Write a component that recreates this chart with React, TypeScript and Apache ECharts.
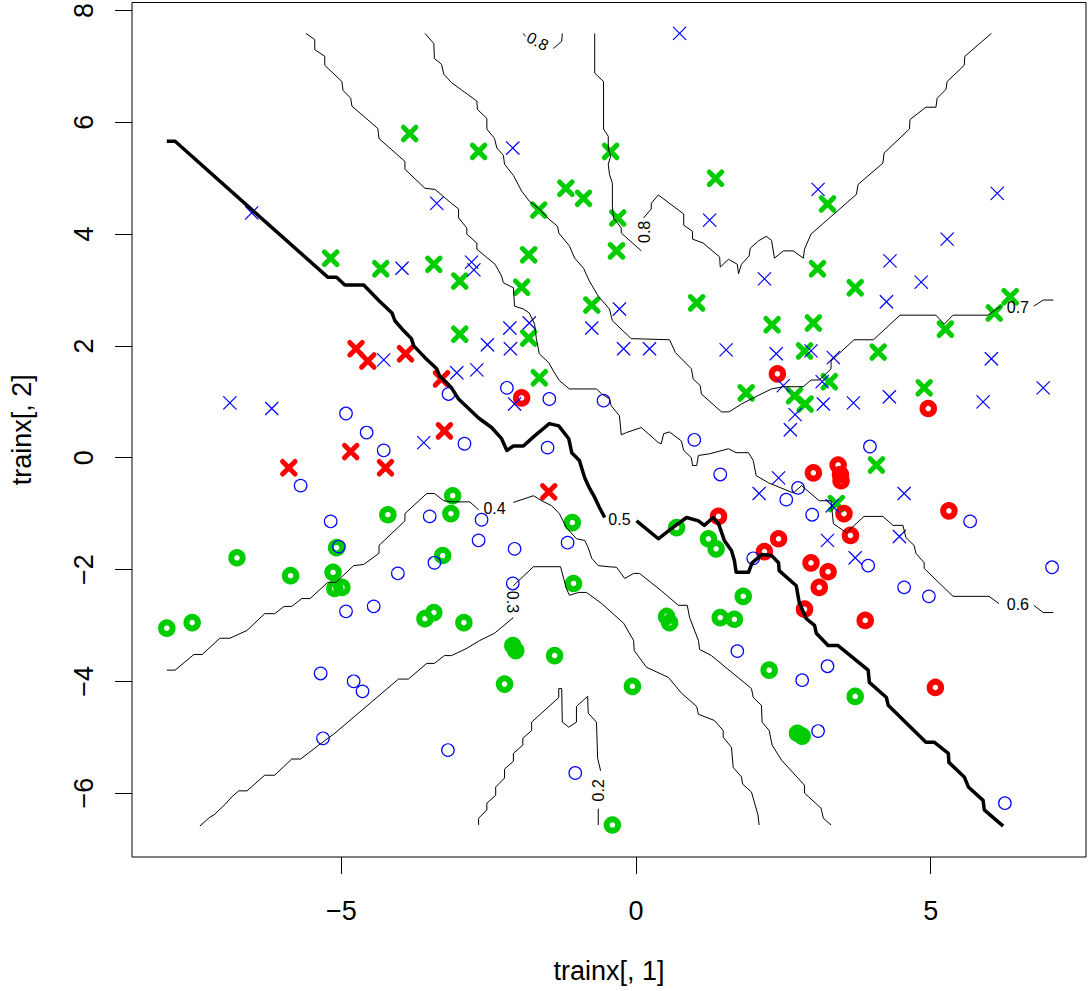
import React, { useEffect, useRef } from "react";
import * as echarts from "echarts";

type Pt = [number, number];

// Axis extents and ticks
const X_RANGE: Pt = [-8.551, 7.636];
const Y_RANGE: Pt = [-7.143, 8.143];
const X_TICKS = [-5, 0, 5];
const Y_TICKS = [-6, -4, -2, 0, 2, 4, 6, 8];
const X_TITLE = "trainx[, 1]";
const Y_TITLE = "trainx[, 2]";

// Training points by class and marker
const blueCross: Pt[] = [
  [-6.52, 4.38], [-3.38, 4.55], [-3.97, 3.39], [0.74, 7.59], [-2.09, 5.54], [1.25, 4.25],
  [-2.79, 3.5], [-2.75, 3.36], [2.18, 3.2], [3.09, 4.8], [6.13, 4.73], [5.28, 3.91],
  [4.31, 3.52], [4.84, 3.14], [-4.28, 1.75], [-6.89, 0.98], [-6.18, 0.88], [-3.6, 0.27],
  [-0.28, 2.66], [-2.14, 2.32], [-1.81, 2.41], [-2.52, 2.02], [-2.13, 1.95], [-0.75, 2.32],
  [-0.21, 1.95], [0.23, 1.95], [1.53, 1.93], [-3.04, 1.52], [-2.7, 1.57], [-2.06, 0.96],
  [4.25, 2.79], [2.38, 1.86], [2.97, 1.91], [3.35, 1.79], [6.03, 1.77], [3.16, 1.36],
  [2.5, 1.29], [3.18, 0.96], [3.69, 0.98], [4.3, 1.09], [5.89, 1.0], [6.91, 1.25],
  [2.7, 0.77], [2.62, 0.5], [2.42, -0.36], [4.55, -0.64], [3.25, -1.48], [4.47, -1.41],
  [3.72, -1.79], [2.09, -0.64], [3.33, -0.86],
];

const blueCircle: Pt[] = [
  [-3.18, 1.14], [-4.92, 0.79], [-4.57, 0.45], [-4.28, 0.13], [-5.69, -0.5], [-3.5, -1.05],
  [-5.18, -1.14], [-5.04, -1.59], [-3.42, -1.88], [-4.04, -2.07], [-4.92, -2.75], [-4.45, -2.66],
  [-5.35, -3.86], [-4.79, -4.0], [-4.64, -4.18], [-5.31, -5.02], [-3.19, -5.23], [-2.19, 1.25],
  [-1.47, 1.05], [-0.55, 1.02], [-2.91, 0.25], [-1.5, 0.18], [0.99, 0.32], [1.43, -0.3],
  [-2.62, -1.11], [-2.67, -1.48], [-2.06, -1.63], [-1.16, -1.52], [1.99, -1.8], [-2.09, -2.25],
  [1.72, -3.46], [-1.03, -5.64], [3.97, 0.2], [2.75, -0.54], [2.55, -0.75], [2.99, -1.02],
  [5.67, -1.14], [3.94, -1.93], [7.06, -1.96], [4.55, -2.32], [4.97, -2.48], [3.25, -3.73],
  [2.82, -3.98], [3.09, -4.89], [6.26, -6.18],
];

const greenCross: Pt[] = [
  [-3.84, 5.8], [-5.18, 3.57], [-4.33, 3.38], [-3.43, 3.46], [-2.67, 5.48], [-0.43, 5.48],
  [-1.19, 4.82], [-0.89, 4.64], [-1.65, 4.43], [-0.31, 4.29], [1.35, 5.0], [-1.82, 3.63],
  [-0.33, 3.7], [-2.99, 3.16], [-1.94, 3.05], [3.25, 4.54], [3.08, 3.38], [3.72, 3.04],
  [6.35, 2.88], [-0.75, 2.73], [1.03, 2.77], [2.31, 2.38], [-2.99, 2.21], [-1.82, 2.14],
  [-1.64, 1.43], [1.87, 1.16], [6.08, 2.59], [3.01, 2.41], [5.25, 2.3], [2.86, 1.91],
  [4.11, 1.89], [3.28, 1.36], [2.69, 1.11], [2.87, 0.96], [4.89, 1.25], [4.08, -0.13],
  [3.4, -0.82],
];

const greenCircle: Pt[] = [
  [-3.11, -0.68], [-4.21, -1.02], [-3.14, -1.0], [-5.08, -1.61], [-6.77, -1.79], [-3.28, -1.75],
  [-5.86, -2.11], [-5.14, -2.05], [-5.11, -2.34], [-4.99, -2.32], [-7.96, -3.05], [-7.53, -2.95],
  [-3.58, -2.88], [-3.43, -2.77], [-2.92, -2.95], [-1.08, -1.16], [0.69, -1.25], [1.23, -1.45],
  [1.36, -1.63], [-1.06, -2.25], [-2.09, -3.36], [-2.04, -3.45], [-1.38, -3.54], [-2.23, -4.05],
  [-0.06, -4.09], [0.52, -2.84], [0.57, -2.95], [1.43, -2.86], [1.67, -2.89], [1.82, -2.48],
  [2.26, -3.8], [-0.4, -6.57], [3.72, -4.27], [2.74, -4.93], [2.82, -4.98],
];

const redCross: Pt[] = [
  [-4.75, 1.95], [-4.55, 1.73], [-3.91, 1.86], [-3.3, 1.41], [-3.25, 0.48], [-4.84, 0.11],
  [-5.89, -0.18], [-4.25, -0.18], [-1.48, -0.61],
];

const redCircle: Pt[] = [
  [-1.94, 1.07], [2.4, 1.5], [4.96, 0.88], [3.01, -0.27], [3.43, -0.13], [3.47, -0.3],
  [3.48, -0.41], [5.31, -0.95], [3.53, -1.0], [3.64, -1.39], [2.42, -1.45], [1.4, -1.05],
  [2.18, -1.68], [2.97, -1.88], [3.26, -2.04], [3.11, -2.32], [2.86, -2.71], [3.89, -2.91],
  [5.08, -4.11],
];

// Probability contours, each split where its label sits
const level02: Pt[][] = [
  [
    [-2.67, -6.57], [-2.67, -6.45], [-2.53, -6.3], [-2.53, -6.18], [-2.38, -6.04], [-2.38, -5.89],
    [-2.23, -5.73], [-2.23, -5.57], [-2.08, -5.43], [-2.08, -5.29], [-1.92, -5.14], [-1.92, -5.02],
    [-1.77, -4.88], [-1.77, -4.73], [-1.31, -4.29], [-1.31, -4.13], [-1.26, -4.13], [-1.25, -4.73],
    [-1.14, -4.82], [-1.01, -4.73], [-1.01, -4.45], [-0.82, -4.27], [-0.81, -4.57], [-0.67, -4.73],
    [-0.65, -5.38], [-0.6, -5.6],
  ],
  [[-0.64, -6.28], [-0.64, -6.57]],
];

const level03: Pt[][] = [
  [
    [-7.4, -6.59], [-7.23, -6.43], [-7.16, -6.39], [-6.97, -6.2], [-6.86, -6.07], [-6.74, -5.96],
    [-6.6, -5.96], [-6.3, -5.68], [-6.13, -5.68], [-5.84, -5.39], [-5.69, -5.39], [-5.38, -5.14],
    [-5.11, -4.93], [-4.03, -3.96], [-3.86, -3.96], [-3.55, -3.68], [-3.42, -3.68], [-3.25, -3.54],
    [-3.13, -3.54], [-2.87, -3.41], [-2.65, -3.27], [-2.4, -3.14], [-2.08, -2.86],
  ],
  [
    [-2.08, -2.29], [-1.74, -1.95], [-1.28, -1.95], [-1.18, -2.34], [-1.13, -2.46], [-0.97, -2.41],
    [-0.84, -2.41], [-0.58, -2.61], [-0.21, -2.96], [-0.04, -3.27], [-0.03, -3.45], [0.18, -3.75],
    [0.55, -3.93], [0.77, -4.21], [1.03, -4.45], [1.06, -4.59], [1.33, -4.7], [1.48, -4.88],
    [1.48, -5.0], [1.62, -5.18], [1.65, -5.54], [1.79, -5.71], [1.81, -5.84], [1.96, -5.98],
    [2.07, -6.39], [2.09, -6.57],
  ],
];

const level04: Pt[][] = [
  [
    [-7.96, -3.8], [-7.82, -3.8], [-7.5, -3.52], [-7.36, -3.52], [-7.06, -3.23], [-6.89, -3.23],
    [-6.6, -3.09], [-6.3, -2.79], [-6.13, -2.79], [-5.97, -2.66], [-5.84, -2.66], [-5.67, -2.52],
    [-5.53, -2.52], [-5.23, -2.23], [-5.09, -2.23], [-4.79, -1.93], [-4.62, -1.91], [-4.36, -1.71],
    [-4.36, -1.57], [-3.92, -1.13], [-3.92, -1.0], [-3.55, -0.64], [-3.42, -0.64], [-3.26, -0.77],
    [-3.13, -0.79], [-2.82, -0.79], [-2.67, -0.93],
  ],
  [
    [-2.08, -0.8], [-1.74, -0.68], [-1.6, -0.77], [-1.43, -0.86], [-1.3, -1.0], [-1.18, -1.25],
    [-1.01, -1.45], [-0.87, -1.48], [-0.81, -1.61], [-0.75, -1.8], [-0.64, -1.93], [-0.47, -1.95],
    [-0.33, -1.96], [-0.19, -2.16], [-0.04, -2.07], [0.06, -2.07], [0.43, -2.38], [0.72, -2.64],
    [0.87, -2.64], [0.91, -2.86], [1.06, -3.27], [1.08, -3.43], [1.28, -3.54], [1.96, -4.13],
    [1.99, -4.29], [2.13, -4.43], [2.14, -4.73], [2.26, -4.88], [2.31, -5.14], [2.47, -5.41],
    [2.86, -5.86], [2.86, -6.0], [3.14, -6.27], [3.18, -6.45], [3.31, -6.57],
  ],
];

const level05: Pt[][] = [
  [
    [-7.96, 5.66], [-7.82, 5.66], [-5.23, 3.23], [-5.08, 3.23], [-4.94, 3.09], [-4.62, 3.09],
    [-4.35, 2.8], [-4.14, 2.59], [-4.09, 2.45], [-3.94, 2.27], [-3.81, 2.13], [-3.77, 2.0],
    [-3.58, 1.79], [-3.38, 1.59], [-3.33, 1.46], [-3.13, 1.25], [-3.01, 1.05], [-2.84, 0.88],
    [-2.67, 0.71], [-2.45, 0.54], [-2.28, 0.34], [-2.19, 0.13], [-2.08, 0.21], [-1.91, 0.21],
    [-1.72, 0.39], [-1.47, 0.61], [-1.31, 0.57], [-1.14, 0.34], [-1.09, 0.09], [-0.96, -0.05],
    [-0.87, -0.36], [-0.79, -0.54], [-0.7, -0.71], [-0.62, -0.89], [-0.53, -1.07],
  ],
  [
    [0.01, -1.13], [0.38, -1.45], [0.6, -1.27], [0.86, -1.07], [1.06, -1.13], [1.16, -1.21],
    [1.31, -1.07], [1.4, -1.18], [1.5, -1.48], [1.62, -1.66], [1.67, -1.84], [1.7, -2.05],
    [1.91, -2.05], [1.97, -1.88], [2.14, -1.73], [2.3, -1.75], [2.42, -1.88], [2.43, -2.02],
    [2.72, -2.29], [2.77, -2.59], [2.89, -2.88], [3.03, -3.0], [3.06, -3.14], [3.26, -3.36],
    [3.43, -3.36], [3.94, -3.8], [3.96, -4.02], [4.25, -4.29], [4.28, -4.43], [4.92, -5.09],
    [5.06, -5.09], [5.3, -5.29], [5.31, -5.45], [5.57, -5.71], [5.64, -5.89], [5.89, -6.13],
    [5.91, -6.3], [6.23, -6.59],
  ],
];

const level06: Pt[][] = [
  [
    [-5.6, 7.59], [-5.45, 7.48], [-5.45, 7.3], [-5.28, 7.18], [-5.28, 7.02], [-4.99, 6.73],
    [-4.97, 6.57], [-4.84, 6.43], [-4.82, 6.29], [-4.38, 5.89], [-4.36, 5.71], [-3.92, 5.3],
    [-3.92, 5.16], [-3.58, 4.82], [-3.41, 4.8], [-3.13, 4.55], [-3.01, 4.45], [-3.01, 4.29],
    [-2.87, 4.11], [-2.87, 4.0], [-2.7, 3.84], [-2.7, 3.73], [-2.39, 3.46], [-2.28, 3.25],
    [-2.25, 3.13], [-2.08, 3.04], [-2.06, 2.71], [-1.91, 2.66], [-1.81, 2.59], [-1.72, 2.39],
    [-1.69, 2.13], [-1.64, 1.86], [-1.48, 1.7], [-1.4, 1.55], [-1.3, 1.38], [-1.13, 1.23],
    [-0.67, 1.23], [-0.58, 1.14], [-0.45, 1.05], [-0.42, 0.93], [-0.28, 0.75], [-0.25, 0.41],
    [-0.16, 0.45], [0.09, 0.54], [0.38, 0.27], [0.43, 0.25], [0.47, 0.43], [0.57, 0.46],
    [0.77, 0.3], [0.81, 0.13], [0.94, 0.0], [0.96, -0.14], [1.03, -0.14], [1.06, 0.04],
    [1.25, 0.07], [1.57, 0.16], [1.7, 0.09], [1.91, 0.09], [1.99, -0.05], [2.04, -0.32],
    [2.25, -0.45], [2.67, -0.63], [2.81, -0.5], [3.11, -0.77], [3.31, -0.77], [3.35, -1.18],
    [3.57, -1.34], [3.87, -1.05], [4.19, -1.05], [4.36, -1.21], [4.53, -1.21], [4.58, -1.43],
    [4.72, -1.57], [4.75, -1.71], [4.89, -1.88], [4.89, -1.98], [5.38, -2.48], [5.99, -2.48],
    [6.16, -2.61],
  ],
  [[6.75, -2.64], [6.91, -2.77], [7.08, -2.77]],
];

const level07: Pt[][] = [
  [
    [-3.58, 7.59], [-3.43, 7.41], [-3.42, 7.14], [-3.3, 7.04], [-3.26, 6.86], [-3.13, 6.71],
    [-2.7, 6.38], [-2.69, 6.23], [-2.53, 6.07], [-2.53, 5.88], [-2.4, 5.71], [-2.36, 5.54],
    [-2.25, 5.41], [-2.23, 5.25], [-2.08, 5.05], [-1.94, 4.77], [-1.81, 4.59], [-1.65, 4.46],
    [-1.48, 4.27], [-1.33, 4.14], [-1.31, 4.02], [-1.13, 3.79], [-1.04, 3.57], [-0.89, 3.39],
    [-0.79, 3.16], [-0.64, 2.89], [-0.45, 2.66], [-0.4, 2.45], [-0.08, 2.13], [0.57, 2.11],
    [0.67, 1.88], [0.94, 1.59], [0.97, 1.41], [1.09, 1.29], [1.11, 1.14], [1.45, 0.82],
    [1.58, 0.82], [1.79, 0.96], [1.99, 1.07], [2.3, 1.23], [2.5, 1.27], [2.84, 1.27],
    [2.97, 1.39], [3.11, 1.39], [3.31, 1.59], [3.31, 1.73], [3.7, 2.11], [4.03, 2.11],
    [4.48, 2.55], [5.09, 2.55], [5.23, 2.39], [5.38, 2.55], [5.97, 2.55], [6.19, 2.71],
  ],
  [[6.75, 2.71], [6.91, 2.82], [7.08, 2.82]],
];

const level08: Pt[][] = [
  [[-1.92, 7.59], [-1.87, 7.54]],
  [[-1.4, 7.32], [-1.26, 7.45], [-1.25, 7.59]],
  [
    [-0.7, 7.59], [-0.7, 6.88], [-0.55, 6.73], [-0.55, 5.88], [-0.47, 5.75], [-0.47, 5.54],
    [-0.43, 5.39], [-0.47, 5.25], [-0.45, 5.07], [-0.4, 4.91], [-0.4, 4.5], [-0.38, 4.29],
    [-0.25, 4.11], [-0.25, 4.02], [0.09, 3.7],
  ],
  [
    [0.13, 4.29], [0.26, 4.45], [0.26, 4.55], [0.38, 4.7], [0.81, 4.36], [0.81, 4.16],
    [0.96, 4.05], [0.96, 3.91], [1.14, 3.84], [1.42, 3.59], [1.43, 3.41], [1.57, 3.55],
    [1.72, 3.46], [1.74, 3.29], [1.79, 3.46], [1.92, 3.61], [1.94, 3.75], [2.08, 3.88],
    [2.21, 3.96], [2.3, 3.89], [2.35, 3.57], [2.5, 3.7], [2.67, 3.7], [2.84, 3.57],
    [2.86, 3.73], [2.97, 4.0], [3.74, 4.71], [3.77, 4.89], [4.19, 5.27], [4.21, 5.45],
    [4.64, 5.88], [4.65, 6.05], [4.92, 6.27], [5.09, 6.27], [5.11, 6.43], [5.26, 6.59],
    [5.28, 6.73], [5.57, 7.02], [5.58, 7.18], [6.03, 7.59],
  ],
];

// Contour labels: text, position, rotation in degrees
const labelText = ["0.8", "0.8", "0.7", "0.6", "0.5", "0.4", "0.3", "0.2"];
const labelPos: Pt[] = [
  [-1.67, 7.45], [0.14, 4.04], [6.48, 2.68], [6.48, -2.63],
  [-0.28, -1.11], [-2.4, -0.9], [-2.09, -2.58], [-0.63, -5.95],
];
const labelAngle = [-28, 90, 0, 0, 0, 0, -90, 90];

const FONT = "'Liberation Sans', Arial, Helvetica, sans-serif";
const CROSS = "path://M0 0L10 10M10 0L0 10";
const BLUE = "#0000ff";
const GREEN = "#00cd00";
const RED = "#ff0000";

const minusFmt = (v: number) => (v < 0 ? "\u2212" + Math.abs(v) : String(v));

function points(data: Pt[], symbol: string, size: number, color: string, width: number, z: number) {
  return {
    type: "scatter",
    data,
    symbol,
    symbolSize: size,
    silent: true,
    z,
    itemStyle: {
      color: "rgba(0,0,0,0)",
      borderColor: color,
      borderWidth: width,
      borderCap: "round",
      opacity: 1,
    },
  };
}

function contour(paths: Pt[][], width: number) {
  return paths.map((p) => ({
    type: "line",
    data: p,
    symbol: "none",
    showSymbol: false,
    silent: true,
    z: 4,
    lineStyle: { color: "#000", width, join: "round" },
  }));
}

export default function App() {
  const ref = useRef<HTMLDivElement>(null);

  useEffect(() => {
    if (!ref.current) return;
    const chart = echarts.init(ref.current, undefined, { renderer: "svg" });

    const labelSeries = {
      type: "scatter",
      silent: true,
      z: 5,
      symbolSize: 1,
      itemStyle: { color: "rgba(0,0,0,0)", opacity: 1 },
      data: labelText.map((t, i) => ({
        name: t,
        value: labelPos[i],
        label: { rotate: labelAngle[i] },
      })),
      label: {
        show: true,
        position: "inside",
        formatter: "{b}",
        fontSize: 16,
        color: "#000",
        fontFamily: FONT,
      },
    };

    chart.setOption({
      animation: false,
      backgroundColor: "#fff",
      grid: {
        left: 131,
        top: 1,
        width: 955,
        height: 856,
        show: true,
        borderColor: "#000",
        borderWidth: 1,
      },
      xAxis: {
        type: "value",
        min: X_RANGE[0],
        max: X_RANGE[1],
        axisLine: { show: false, onZero: false },
        splitLine: { show: false },
        axisTick: {
          show: true,
          inside: false,
          length: 17,
          customValues: X_TICKS,
          lineStyle: { color: "#000", width: 1 },
        },
        axisLabel: {
          customValues: X_TICKS,
          margin: 40,
          fontSize: 27,
          color: "#000",
          fontFamily: FONT,
          formatter: minusFmt,
        },
        name: X_TITLE,
        nameLocation: "middle",
        nameGap: 100,
        nameTextStyle: { fontSize: 27, color: "#000", fontFamily: FONT },
      },
      yAxis: {
        type: "value",
        min: Y_RANGE[0],
        max: Y_RANGE[1],
        axisLine: { show: false, onZero: false },
        splitLine: { show: false },
        axisTick: {
          show: true,
          inside: false,
          length: 17,
          customValues: Y_TICKS,
          lineStyle: { color: "#000", width: 1 },
        },
        axisLabel: {
          customValues: Y_TICKS,
          rotate: 90,
          margin: 35,
          fontSize: 27,
          color: "#000",
          fontFamily: FONT,
          formatter: minusFmt,
        },
        name: Y_TITLE,
        nameLocation: "middle",
        nameGap: 97,
        nameTextStyle: { fontSize: 27, color: "#000", fontFamily: FONT },
      },
      series: [
        points(greenCross, CROSS, 12.5, GREEN, 5, 2),
        points(greenCircle, "circle", 11.5, GREEN, 6, 2),
        points(redCross, CROSS, 12.5, RED, 5, 2),
        points(redCircle, "circle", 11.5, RED, 6, 2),
        points(blueCross, CROSS, 12.5, BLUE, 1.2, 3),
        points(blueCircle, "circle", 12.5, BLUE, 1.2, 3),
        ...contour(level02, 1),
        ...contour(level03, 1),
        ...contour(level04, 1),
        ...contour(level05, 3.5),
        ...contour(level06, 1),
        ...contour(level07, 1),
        ...contour(level08, 1),
        labelSeries,
      ],
    });

    return () => chart.dispose();
  }, []);

  return (
    <div
      ref={ref}
      style={{ position: "absolute", left: 0, top: 0, width: 1088, height: 991 }}
    />
  );
}
